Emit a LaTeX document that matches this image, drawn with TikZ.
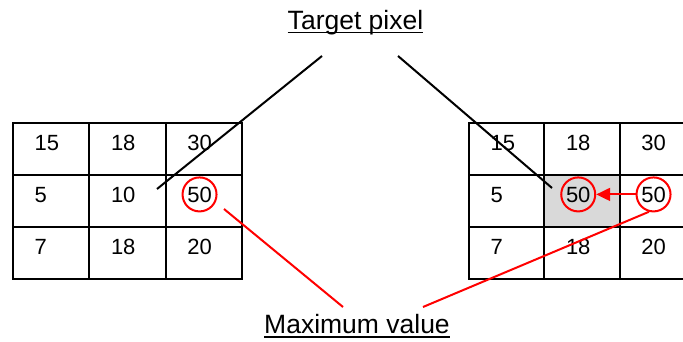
\documentclass[tikz,border=0pt]{standalone}
\usepackage{fontspec}
\setmainfont{Liberation Sans}
\usetikzlibrary{positioning, calc, arrows.meta, backgrounds}

\begin{document}
\begin{tikzpicture}[x=1pt, y=-1pt,
    cell/.style={draw, line width=2pt, minimum width=#1pt, minimum height=52pt, inner sep=0, outer sep=0, anchor=north west},
    cell/.default=76,
    num/.style={inner sep=0, anchor=base west, xshift=21.5pt, yshift=-27pt, font=\fontsize{22}{26}\selectfont},
    tag/.style={inner sep=0, anchor=base, font=\fontsize{26.5}{31}\selectfont},
    hilite/.style={circle, draw=red, line width=2pt, minimum size=34pt, inner sep=0},
    pointer/.style={line width=2pt}]
  \clip (0,0) rectangle (683,342);

  % Left grid
  \foreach \v [count=\i from 0] in {15,18,30,5,10,50,7,18,20} {
    \pgfmathtruncatemacro\r{\i/3}
    \pgfmathtruncatemacro\c{mod(\i,3)}
    \node[cell=76.3] (L-\r-\c) at (13+76.3*\c, 123+52*\r) {};
    \node[num] (Ln-\r-\c) at (L-\r-\c.north west) {\v};
  }

  % Right grid (cut at the page edge)
  \foreach \v [count=\i from 0] in {15,18,30,5,50,50,7,18,20} {
    \pgfmathtruncatemacro\r{\i/3}
    \pgfmathtruncatemacro\c{mod(\i,3)}
    \node[cell=75.3] (R-\r-\c) at (469+75.3*\c, 123+52*\r) {};
    \node[num] (Rn-\r-\c) at (R-\r-\c.north west) {\v};
  }

  % Target pixel shading
  \begin{scope}[on background layer]
    \fill[black!15] (R-1-1.north west) rectangle (R-1-1.south east);
  \end{scope}

  % Maximum marks
  \node[hilite] (Lmax) at (Ln-1-2.center) {};
  \node[hilite] (Rtgt) at (Rn-1-1.center) {};
  \node[hilite] (Rmax) at (Rn-1-2.center) {};
  \draw[pointer, red, -{Triangle[length=14pt, width=13pt]}] (Rmax.west) -- (Rtgt.east);

  % Labels
  \node[tag] (target) at (355.5,29.3) {Target pixel};
  \draw[line width=1.6pt] ([yshift=-3.4pt]target.base west) -- ([yshift=-3.4pt]target.base east);
  \node[tag] (maxval) at (357,333.3) {Maximum value};
  \draw[line width=1.6pt] ([yshift=-3.4pt]maxval.base west) -- ([yshift=-3.4pt]maxval.base east);

  % Pointer lines
  \coordinate (tl-top) at (322,56);
  \coordinate (tl-bot) at (157,189);
  \coordinate (tr-top) at (398,56);
  \coordinate (tr-bot) at (552,188);
  \coordinate (ml-top) at (224,209);
  \coordinate (ml-bot) at (343,307);
  \coordinate (mr-bot) at (423,307);
  \draw[pointer] (tl-top) -- (tl-bot);
  \draw[pointer] (tr-top) -- (tr-bot);
  \draw[pointer, red] (ml-top) -- (ml-bot);
  \draw[pointer, red] (mr-bot) -- (Rmax.-105);
\end{tikzpicture}
\end{document}
